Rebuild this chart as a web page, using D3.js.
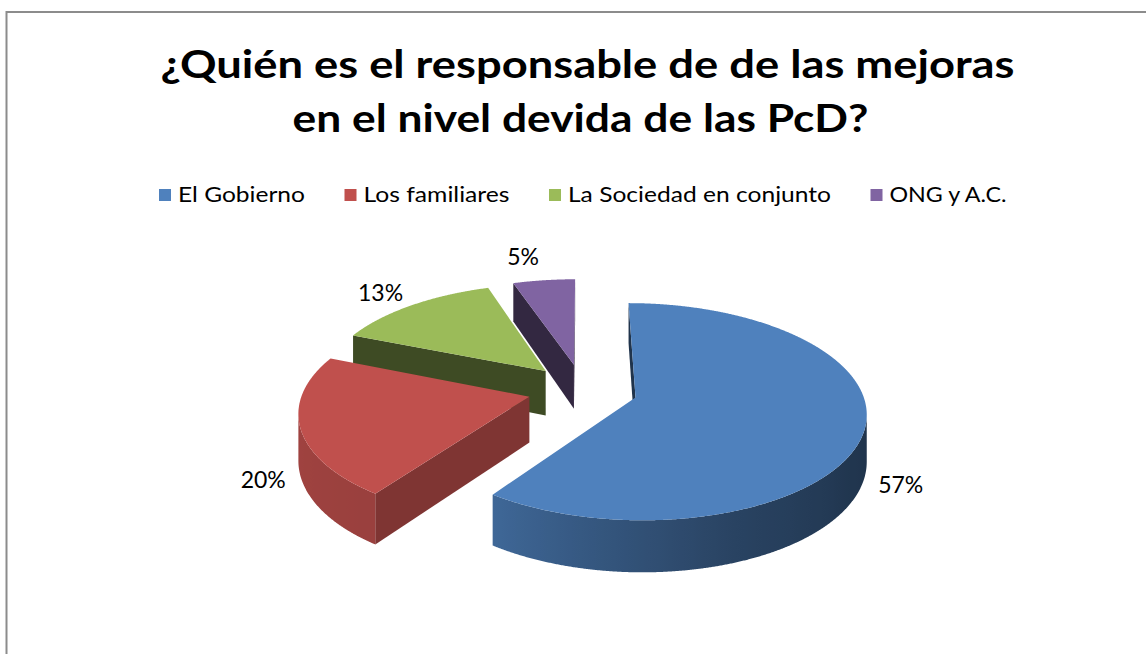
<!DOCTYPE html>
<html><head><meta charset="utf-8">
<script src="https://cdn.jsdelivr.net/npm/d3@7"></script>
<style>body{margin:0;background:#fff} svg{display:block}</style>
</head><body>
<svg id="chart" width="1146" height="654"></svg>
<script>
// ---- data ----
const titleLines = ["¿Quién es el responsable de de las mejoras", "en el nivel devida de las PcD?"];
const categories = ["El Gobierno", "Los familiares", "La Sociedad en conjunto", "ONG y A.C."];
const values = [57, 20, 13, 5];
const colors = ["#4F81BD", "#C0504D", "#9BBB59", "#8064A2"];

// ---- layout ----
const W = 1146, H = 654;
const svg = d3.select("#chart");
const defs = svg.append("defs");
const FONT = "Lato, 'Open Sans', sans-serif";

// frame
svg.append("path").attr("d", `M6.5,${H} V12 H${W}`).attr("fill", "none")
  .attr("stroke", "#8c8c8c").attr("stroke-width", 2);

// title
const titleCfg = [{x: 587.5, y: 78, w: 854}, {x: 580.5, y: 132, w: 576}];
titleLines.forEach((t, i) => {
  svg.append("text").text(t)
    .attr("x", titleCfg[i].x).attr("y", titleCfg[i].y)
    .attr("text-anchor", "middle")
    .attr("font-family", FONT).attr("font-weight", 700).attr("font-size", 39)
    .attr("textLength", titleCfg[i].w).attr("lengthAdjust", "spacingAndGlyphs")
    .attr("fill", "#000");
});

// legend
const legendTextW = [127, 146, 263, 117];
let lx = 159;
const legend = svg.append("g");
categories.forEach((c, i) => {
  legend.append("rect").attr("x", lx).attr("y", 189).attr("width", 12).attr("height", 12)
    .attr("fill", colors[i]);
  legend.append("text").text(c).attr("x", lx + 19).attr("y", 201.5)
    .attr("font-family", FONT).attr("font-size", 22).attr("fill", "#000")
    .attr("textLength", legendTextW[i]).attr("lengthAdjust", "spacingAndGlyphs");
  lx += 19 + legendTextW[i] + 39.5;
});

// ---- 3D pie ----
const Cx = 582.7, Cy = 389.4, R = 226, EXP = 55, TILT = 0.471, PERSP = 0.1336, DEPTH = 45.5;
function proj(X, Y, z) {
  const s = 1 + PERSP * Y / R;
  return [Cx + X * s, Cy + (Y * TILT + z) * s];
}
function ptAt(o, r, th, z) {
  return proj(o[0] + r * Math.sin(th), o[1] - r * Math.cos(th), z);
}
function area(poly) {
  let a = 0;
  for (let i = 0; i < poly.length; i++) {
    const p = poly[i], q = poly[(i + 1) % poly.length];
    a += p[0] * q[1] - q[0] * p[1];
  }
  return a;
}
const line = d3.line().curve(d3.curveLinearClosed);
const shade = d3.scaleLinear().domain([90, 120, 160, 216, 270]).range([0.39, 0.42, 0.52, 0.80, 0.84]).clamp(true);
function darken(col, f) {
  const c = d3.rgb(col);
  return d3.rgb(c.r * f, c.g * f, c.b * f).formatHex();
}

const arcs = d3.pie().sort(null).value(d => d)(values);
const slices = arcs.map((a, i) => {
  const b = (a.startAngle + a.endAngle) / 2;
  return {a, i, b, o: [EXP * Math.sin(b), -EXP * Math.cos(b)]};
});
const order = slices.slice().sort((p, q) => p.o[1] - q.o[1]);
const pieG = svg.append("g");
const STEP = Math.PI / 720;

order.forEach(sl => {
  const {a, i, o} = sl;
  const g = pieG.append("g");
  const base = colors[i];
  const V0 = proj(o[0], o[1], 0), V1 = proj(o[0], o[1], DEPTH);
  // radial faces
  const f0 = [V0, V1, ptAt(o, R, a.startAngle, DEPTH), ptAt(o, R, a.startAngle, 0)];
  const f1 = [V0, ptAt(o, R, a.endAngle, 0), ptAt(o, R, a.endAngle, DEPTH), V1];
  [[f0, a.startAngle - Math.PI / 2], [f1, a.endAngle + Math.PI / 2]].forEach(([f, nrm]) => {
    if (area(f) > 0) {
      let nd = (nrm * 180 / Math.PI) % 360; if (nd < 0) nd += 360;
      const fac = (nd > 90 && nd < 180) ? 0.66 : 0.4;
      g.append("path").attr("d", line(f)).attr("fill", darken(base, fac));
    }
  });
  // outer side: visible runs
  const n = Math.max(2, Math.ceil((a.endAngle - a.startAngle) / STEP));
  const ths = d3.range(n + 1).map(k => a.startAngle + (a.endAngle - a.startAngle) * k / n);
  let runs = [], cur = null;
  for (let k = 0; k < n; k++) {
    const q = [ptAt(o, R, ths[k], 0), ptAt(o, R, ths[k + 1], 0), ptAt(o, R, ths[k + 1], DEPTH), ptAt(o, R, ths[k], DEPTH)];
    if (area(q) < 0) { if (!cur) { cur = [k, k + 1]; runs.push(cur); } else cur[1] = k + 1; }
    else cur = null;
  }
  runs.forEach((r, ri) => {
    const ts = ths.slice(r[0], r[1] + 1);
    const top = ts.map(t => ptAt(o, R, t, 0));
    const bot = ts.map(t => ptAt(o, R, t, DEPTH)).reverse();
    const xs = top.map(p => p[0]);
    const x0 = d3.min(xs), x1 = d3.max(xs);
    const gid = `side${i}_${ri}`;
    const grad = defs.append("linearGradient").attr("id", gid)
      .attr("gradientUnits", "userSpaceOnUse")
      .attr("x1", x0).attr("x2", x1).attr("y1", 0).attr("y2", 0);
    const stops = ts.filter((t, k) => k % 10 === 0 || k === ts.length - 1).map(t => {
      const x = ptAt(o, R, t, 0)[0];
      const deg = t * 180 / Math.PI;
      return {off: x1 > x0 ? (x - x0) / (x1 - x0) : 0, col: darken(base, shade(deg))};
    }).sort((p, q) => p.off - q.off);
    stops.forEach(s => grad.append("stop").attr("offset", s.off).attr("stop-color", s.col));
    g.append("path").attr("d", line(top.concat(bot))).attr("fill", `url(#${gid})`);
  });
  // top face
  const topPoly = [V0].concat(ths.map(t => ptAt(o, R, t, 0)));
  g.append("path").attr("d", line(topPoly)).attr("fill", base);
});

// labels
const fmt = v => `${v}%`;
const LFS = 23;
slices.forEach(sl => {
  const {b, o, i} = sl;
  const front = -Math.cos(b) > 0;
  const anchor = ptAt(o, R + 10, b, front ? DEPTH : 0);
  let ux = Math.sin(b), uy = -Math.cos(b) * TILT;
  const L = Math.hypot(ux, uy); ux /= L; uy /= L;
  const t = svg.append("text").text(fmt(values[i]))
    .attr("font-family", FONT).attr("font-size", LFS).attr("fill", "#000")
    .attr("text-anchor", "middle");
  const w = t.node().getComputedTextLength();
  const hh = LFS * 0.75;
  const cx = anchor[0] + Math.sign(ux) * (w / 2 + 4);
  const cy = anchor[1] + uy * (hh + 4);
  t.attr("x", cx).attr("y", cy + LFS * 0.36);
});
</script>
</body></html>
